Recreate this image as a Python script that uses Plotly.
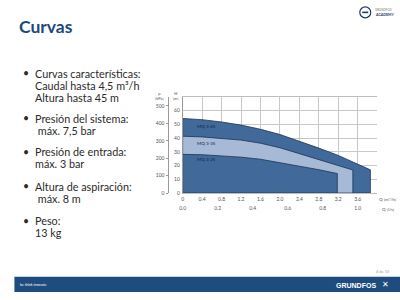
import plotly.graph_objects as go

# ---- data ----
q_345 = [0, 0.4, 0.8, 1.2, 1.6, 2.0, 2.4, 2.8, 3.2, 3.52, 3.86]
p_345 = [428, 421, 408, 390, 366, 336, 298, 258, 216, 175, 133]
q_335 = [0, 0.4, 0.8, 1.2, 1.6, 2.0, 2.4, 2.8, 3.2, 3.5]
p_335 = [326, 322, 315, 304, 286, 260, 226, 192, 158, 132]
q_325 = [0, 0.4, 0.8, 1.2, 1.6, 2.0, 2.4, 2.8, 3.18]
p_325 = [222, 220, 215, 206, 194, 176, 154, 134, 112]
series_names = ["MQ 3-45", "MQ 3-35", "MQ 3-25"]
label_q = [0.5, 0.5, 0.5]
label_p = [380, 284, 193]

q_ticks = [0, 0.4, 0.8, 1.2, 1.6, 2.0, 2.4, 2.8, 3.2, 3.6]
q_tick_text = ["0", "0.4", "0.8", "1.2", "1.6", "2.0", "2.4", "2.8", "3.2", "3.6"]
qls_ticks = [0.0, 0.2, 0.4, 0.6, 0.8, 1.0]
qls_tick_text = ["0.0", "0.2", "0.4", "0.6", "0.8", "1.0"]
p_ticks = [0, 100, 200, 300, 400, 500]
h_ticks = [0, 10, 20, 30, 40, 50, 60]

bullets = [
    ["Curvas características:", "Caudal hasta 4,5 m³/h", "Altura hasta 45 m"],
    ["Presión del sistema:", " máx. 7,5 bar"],
    ["Presión de entrada:", "máx. 3 bar"],
    ["Altura de aspiración:", " máx. 8 m"],
    ["Peso:", "13 kg"],
]
bullet_y = [74, 119.5, 153.5, 188, 223]

W, H = 400, 300
def px(x):
    return x / W
def py(y):
    return 1 - y / H

DARK = "#41699a"
LIGHT = "#a6b9d6"
EDGE = "#1c3352"
NAVY = "#1f4c7e"
TICKC = "#555555"

def tf():
    return dict(size=5, color=TICKC, family="Lato")

fig = go.Figure()
for q, p, col in [(q_345, p_345, DARK), (q_335, p_335, LIGHT), (q_325, p_325, DARK)]:
    xs = [0] + q + [q[-1], 0]
    ys = [0] + p + [0, 0]
    fig.add_trace(go.Scatter(x=xs, y=ys, fill="toself", fillcolor=col, mode="lines",
                             line=dict(color=EDGE, width=0.8), hoverinfo="skip",
                             showlegend=False))
# invisible traces to activate secondary axes
fig.add_trace(go.Scatter(x=[0, 1.1], y=[0, 0], xaxis="x2", yaxis="y", mode="markers",
                         marker=dict(opacity=0), showlegend=False, hoverinfo="skip"))
fig.add_trace(go.Scatter(x=[0, 0], y=[0, 60], xaxis="x", yaxis="y2", mode="markers",
                         marker=dict(opacity=0), showlegend=False, hoverinfo="skip"))

for name, lq, lp in zip(series_names, label_q, label_p):
    fig.add_annotation(x=lq, y=lp, xref="x", yref="y", text=name, showarrow=False,
                       font=dict(size=4.5, color="#0f2540", family="Lato"))

xd = [px(181), px(377)]
yd = [py(195), py(98)]

fig.update_layout(
    width=W, height=H, margin=dict(l=0, r=0, t=0, b=0),
    paper_bgcolor="white", plot_bgcolor="white", showlegend=False,
    xaxis=dict(domain=xd, range=[0, 4.0], tickvals=q_ticks, ticktext=q_tick_text,
               showgrid=True, gridcolor="#c8c8c8", gridwidth=0.6, zeroline=False,
               showline=True, linecolor="#bdbdbd", linewidth=0.6, mirror=True,
               ticks="", tickfont=tf(), ticklabelstandoff=1, color=TICKC),
    xaxis2=dict(overlaying="x", anchor="free", position=py(206.5), range=[0, 4.0 / 3.6],
                tickvals=qls_ticks, ticktext=qls_tick_text, showgrid=False, zeroline=False,
                showline=False, ticks="", tickfont=tf(), side="bottom", color=TICKC),
    yaxis=dict(domain=yd, range=[0, 551], anchor="free", position=px(166.5),
               tickvals=p_ticks, showgrid=False, zeroline=False, showline=True,
               linecolor="#9a9a9a", linewidth=0.6, ticks="outside", ticklen=2,
               tickcolor="#9a9a9a", tickwidth=0.6, tickfont=tf(), ticklabelstandoff=1,
               color=TICKC),
    yaxis2=dict(overlaying="y", anchor="x", side="left", range=[0, 69.8],
                tickvals=h_ticks, showgrid=True, gridcolor="#c8c8c8", gridwidth=0.6,
                zeroline=False, showline=True, linecolor="#9a9a9a", linewidth=0.6,
                ticks="", tickfont=tf(), ticklabelstandoff=1, color=TICKC),
)

def ann(x, y, text, size, color="#2b2b2b", xanchor="left", yanchor="middle", family="Lato"):
    fig.add_annotation(x=px(x), y=py(y), xref="paper", yref="paper", text=text,
                       showarrow=False, xanchor=xanchor, yanchor=yanchor,
                       font=dict(size=size, color=color, family=family))

# axis titles
ann(158, 97, "p<br>[kPa]", 4, color=TICKC, xanchor="center")
ann(174, 97, "H<br>[m]", 4, color=TICKC, xanchor="center")
ann(377, 202, "Q [m³/h]", 4.5, color=TICKC)
ann(380, 211.5, "Q [l/s]", 4.5, color=TICKC)

# title
ann(14.5, 27, "<b>Curvas</b>", 17.5, color="#1b4a7c")

# bullets
for lines, y0 in zip(bullets, bullet_y):
    ann(18, y0, "•", 10.5, color="#2b2b2b")
    for i, line in enumerate(lines):
        ann(30.5, y0 + i * 12, line, 10.8, color="#2b2b2b")

# footer bar
fig.add_shape(type="rect", xref="paper", yref="paper", x0=px(11.5), x1=px(400),
              y0=py(295), y1=py(279.5), fillcolor=NAVY, line=dict(width=0), layer="above")
ann(15.5, 288, "be think innovate", 3.5, color="white")
ann(333, 288, "<b>GRUNDFOS</b>", 7, color="white", family="Liberation Sans")
ann(380, 287.5, "✕", 8, color="white", family="DejaVu Sans")
ann(392, 274, "4 de 15", 4, color="#9a9a9a", xanchor="right")

# academy logo
fig.add_shape(type="circle", xref="paper", yref="paper", x0=px(359.5), x1=px(370.5),
              y0=py(18), y1=py(7), line=dict(color="#1b3a5f", width=1.2), fillcolor="white")
fig.add_shape(type="rect", xref="paper", yref="paper", x0=px(362), x1=px(368),
              y0=py(13.3), y1=py(11.7), line=dict(width=0), fillcolor="#1b3a5f")
ann(373, 10, "GRUNDFOS", 3, color="#777777")
ann(373, 14.5, "<b>ACADEMY</b>", 3.6, color="#1b3a5f")

fig.write_html("out.html")
